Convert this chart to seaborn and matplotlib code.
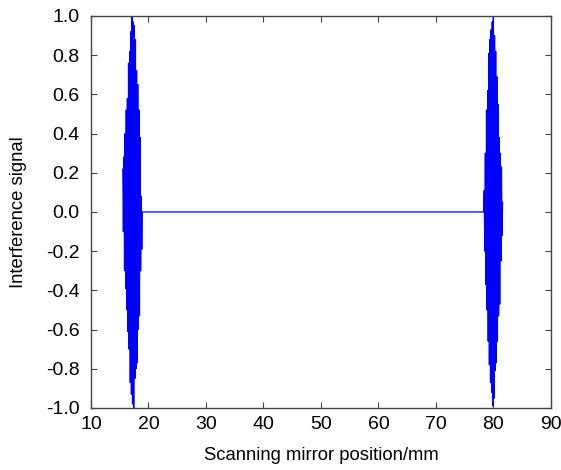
import numpy as np
import pandas as pd
import matplotlib
matplotlib.use("Agg")
import matplotlib.pyplot as plt
import seaborn as sns

# peak samples of the two interference packets
left_x = [15.55, 15.65, 15.75, 15.85, 15.95, 16.05, 16.15, 16.25, 16.35, 16.45,
          16.55, 16.65, 16.75, 16.85, 16.95, 17.05, 17.15, 17.25, 17.35, 17.45,
          17.55, 17.65, 17.75, 17.85, 17.95, 18.05, 18.15, 18.25, 18.35, 18.45,
          18.55, 18.65, 18.75, 18.85]
left_y = [0.22, -0.10, 0.28, -0.30, 0.40, -0.39, 0.52, -0.50, 0.58, -0.61,
          0.76, -0.70, 0.82, -0.87, 0.92, -0.93, 1.00, -0.98, 0.97, -1.00,
          0.95, -0.85, 0.88, -0.80, 0.72, -0.77, 0.65, -0.60, 0.52, -0.53,
          0.38, -0.30, 0.08, -0.19]

# flat part between the packets
flat_x = [18.95, 78.30]
flat_y = [0.0, 0.0]

right_x = [78.40, 78.50, 78.60, 78.70, 78.80, 78.90, 79.00, 79.10, 79.20, 79.30,
           79.40, 79.50, 79.60, 79.70, 79.80, 79.90, 80.00, 80.10, 80.20, 80.30,
           80.40, 80.50, 80.60, 80.70, 80.80, 80.90, 81.00, 81.10, 81.20, 81.30,
           81.40, 81.50, 81.60]
right_y = [0.11, -0.20, 0.30, -0.37, 0.52, -0.50, 0.62, -0.66, 0.81, -0.78,
           0.88, -0.87, 0.93, -0.92, 0.97, -0.99, 1.00, -0.95, 0.90, -0.81,
           0.82, -0.77, 0.69, -0.66, 0.55, -0.53, 0.38, -0.47, 0.30, -0.25,
           0.23, -0.12, 0.05]

x_ticks = [10, 20, 30, 40, 50, 60, 70, 80, 90]
y_ticks = [-1.0, -0.8, -0.6, -0.4, -0.2, 0.0, 0.2, 0.4, 0.6, 0.8, 1.0]

df = pd.DataFrame({
    "position": left_x + flat_x + right_x,
    "signal": left_y + flat_y + right_y,
})

sns.set_style("ticks")
plt.rcParams["font.family"] = ["Liberation Sans", "DejaVu Sans"]
plt.rcParams["axes.unicode_minus"] = False

fig = plt.figure(figsize=(5.61, 4.70), dpi=100)
ax = fig.add_axes([0.162, 0.132, 0.82, 0.834])

sns.lineplot(data=df, x="position", y="signal", color="#0000ff",
             linewidth=0.9, estimator=None, sort=False, ax=ax)

ax.set_xlim(10, 90)
ax.set_ylim(-1.0, 1.0)
ax.set_xticks(x_ticks)
ax.set_yticks(y_ticks)
ax.set_yticklabels([f"{v:.1f}" for v in y_ticks])
ax.set_xlabel("Scanning mirror position/mm", fontsize=13.3, labelpad=10, color="black")
ax.set_ylabel("Interference signal", fontsize=13.3, labelpad=14, color="black")

for s in ax.spines.values():
    s.set_visible(True)
    s.set_color("#444444")
    s.set_linewidth(1.0)
ax.tick_params(direction="in", length=4, width=0.8, color="#444444",
               labelsize=14, labelcolor="black", top=True, right=True)
ax.tick_params(axis="y", pad=8)
ax.tick_params(axis="x", pad=6)

fig.savefig("out.png", dpi=100)
